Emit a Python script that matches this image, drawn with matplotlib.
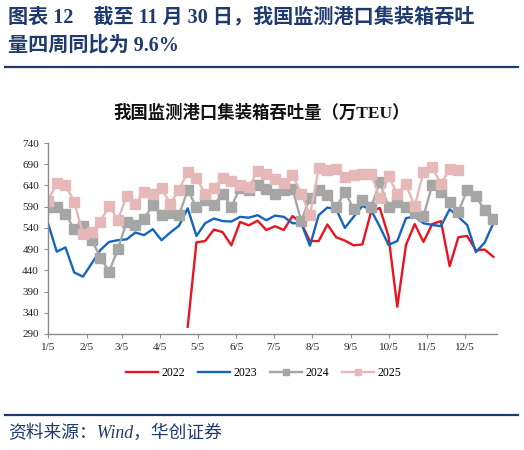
import numpy as np
import matplotlib.pyplot as plt

# weekly container throughput, 10k TEU (week k -> day 4 + 7k)
v2022 = [307, 506, 509, 536, 530, 499, 554, 546, 557, 535, 544, 535, 568, 551, 509, 509,
         548, 518, 510, 499, 501, 578, 587, 520, 354, 500, 549, 507, 549, 556, 450, 518,
         521, 487, 489, 472]
start2022 = 16
v2023 = [551, 484, 494, 435, 425, 456, 488, 507, 511, 513, 529, 523, 537, 511, 529, 545,
         586, 521, 551, 562, 556, 555, 566, 564, 570, 558, 569, 566, 551, 551, 498, 570,
         588, 584, 540, 566, 592, 582, 543, 500, 509, 563, 567, 551, 547, 544, 584, 566,
         547, 483, 505, 551]
v2024 = [590, 590, 573, 537, 545, 512, 470, 437, 490, 553, 547, 562, 593, 570, 574, 570,
         629, 589, 605, 595, 620, 590, 634, 629, 641, 632, 619, 630, 632, 556, 611, 630,
         617, 589, 625, 585, 605, 589, 647, 590, 600, 590, 574, 568, 641, 625, 602, 578,
         629, 614, 582, 561]
v2025 = [604, 645, 640, 602, 526, 530, 555, 592, 559, 614, 597, 625, 621, 633, 597, 629,
         672, 658, 620, 633, 657, 651, 641, 636, 674, 668, 655, 646, 665, 621, 570, 680,
         676, 679, 659, 665, 668, 667, 610, 662, 620, 643, 591, 672, 683, 643, 679, 676]

tick_days = [4, 35, 63, 94, 124, 155, 185, 216, 247, 277, 308, 338]
tick_labels = ['1/5', '2/5', '3/5', '4/5', '5/5', '6/5', '7/5', '8/5', '9/5', '10/5', '11/5', '12/5']

cjk = ['Liberation Serif', 'Noto Sans CJK SC']
navy = '#1f3a6e'

def days(n, start=0):
    return 4 + 7 * np.arange(start, start + n)

fig = plt.figure(figsize=(5.24, 4.5), dpi=100)
ax = fig.add_axes([0.0916, 0.2578, 0.857, 0.4244])

ax.plot(days(len(v2022), start2022), v2022, color='#e8141f', lw=1.7, label='2022')
ax.plot(days(len(v2023)), v2023, color='#1565c0', lw=1.7, label='2023')
ax.plot(days(len(v2024)), v2024, color='#a6a6a6', lw=1.7, marker='s', ms=6.5, label='2024')
ax.plot(days(len(v2025)), v2025, color='#e6b9b8', lw=1.7, marker='s', ms=6.5, label='2025')

ax.set_xlim(4, 364)
ax.set_ylim(290, 740)
ax.set_yticks(np.arange(290, 741, 50))
ax.set_xticks(tick_days)
ax.set_xticklabels(tick_labels)
for s in ['top', 'right']:
    ax.spines[s].set_visible(False)
for s in ['left', 'bottom']:
    ax.spines[s].set_color('#8c8c8c')
    ax.spines[s].set_linewidth(1.0)
ax.tick_params(axis='both', colors='#8c8c8c', length=3, labelsize=8, labelcolor='#222222')
for lab in ax.get_xticklabels() + ax.get_yticklabels():
    lab.set_family('Liberation Serif')

fig.legend(loc='center', bbox_to_anchor=(0.503, 0.171), ncol=4, frameon=False,
           prop={'family': 'Liberation Serif', 'size': 8.5}, handlelength=2.7,
           handletextpad=0.3, columnspacing=1.1, markerscale=0.75)

fig.text(0.015, 1 - 17 / 450, '图表 12    截至 11 月 30 日，我国监测港口集装箱吞吐',
         family=cjk, fontsize=14.5, fontweight='bold', color=navy, va='center')
fig.text(0.015, 1 - 46 / 450, '量四周同比为 9.6%', family=cjk, fontsize=14.5,
         fontweight='bold', color=navy, va='center')
fig.add_artist(plt.Line2D([0.01, 0.988], [1 - 67 / 450] * 2, color=navy, lw=1.6))

fig.text(0.5, 1 - 113 / 450, '我国监测港口集装箱吞吐量（万TEU）', family=cjk, fontsize=12.5,
         fontweight='bold', color='#111111', ha='center', va='center')

fig.add_artist(plt.Line2D([0.01, 0.988], [1 - 415 / 450] * 2, color=navy, lw=1.6))
fig.text(0.015, 1 - 433 / 450, '资料来源：Wind，华创证券', family=cjk, fontsize=12.8,
         style='italic', color=navy, va='center')

fig.savefig('out.png', dpi=100)
